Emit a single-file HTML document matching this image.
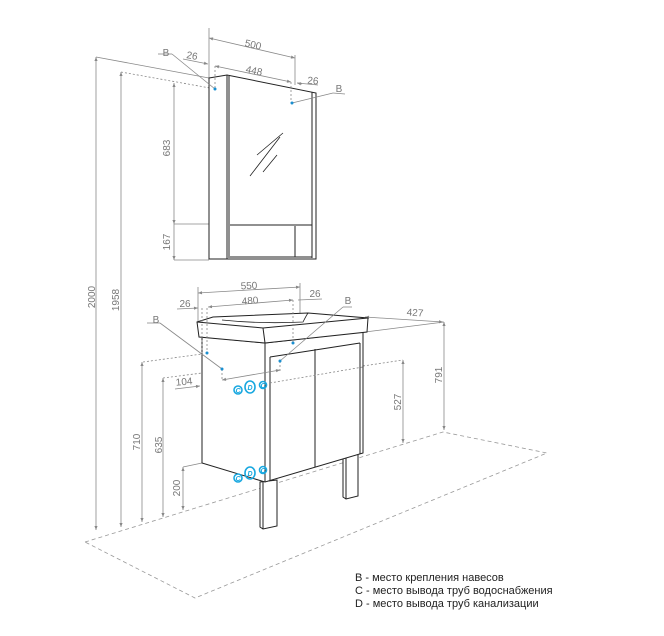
<!DOCTYPE html>
<html><head><meta charset="utf-8"><style>
html,body{margin:0;padding:0;background:#fff;}
svg{display:block;font-family:"Liberation Sans",sans-serif;}
</style></head><body>
<svg width="664" height="636" viewBox="0 0 664 636" xmlns="http://www.w3.org/2000/svg">
<defs>
<marker id="a" viewBox="0 0 10 10" refX="10" refY="5" markerWidth="7" markerHeight="5" orient="auto-start-reverse"><path d="M0,1 L10,5 L0,9 z" fill="#888"/></marker>
</defs>
<g fill="none" stroke="#999" stroke-width="0.8" stroke-dasharray="4,3">
<path d="M85,542 L443,432 L547,453 L195,598 Z"/>
</g>
<g stroke="#888" stroke-width="0.8" fill="none">
<line x1="96" y1="57" x2="96" y2="530" marker-start="url(#a)" marker-end="url(#a)"/>
<line x1="96" y1="57" x2="209" y2="78"/>
<line x1="121" y1="72" x2="121" y2="527" marker-start="url(#a)" marker-end="url(#a)"/>
<line x1="121" y1="72" x2="210" y2="88" stroke-dasharray="2,2"/>
<line x1="209" y1="38" x2="295" y2="58" marker-start="url(#a)" marker-end="url(#a)"/>
<line x1="209" y1="28" x2="209" y2="78"/>
<line x1="295" y1="55" x2="295" y2="85"/>
<line x1="215" y1="66" x2="291" y2="82" marker-start="url(#a)" marker-end="url(#a)"/>
<line x1="183" y1="59" x2="208" y2="64" marker-end="url(#a)"/>
<line x1="297" y1="83" x2="318" y2="85"/>
<line x1="297" y1="83" x2="302" y2="84" marker-start="url(#a)"/>
<line x1="158" y1="54" x2="172" y2="54"/>
<line x1="333" y1="93" x2="345" y2="94"/>
<line x1="174" y1="83" x2="174" y2="224" marker-start="url(#a)" marker-end="url(#a)"/>
<line x1="174" y1="224" x2="174" y2="260" marker-end="url(#a)"/>
<line x1="174" y1="224" x2="209" y2="224"/>
<line x1="174" y1="260" x2="209" y2="260"/>
<line x1="198" y1="293" x2="300" y2="287" marker-start="url(#a)" marker-end="url(#a)"/>
<line x1="198" y1="287" x2="198" y2="322"/>
<line x1="300" y1="283" x2="300" y2="315"/>
<line x1="208" y1="307" x2="293" y2="300" marker-start="url(#a)" marker-end="url(#a)"/>
<line x1="177" y1="309" x2="198" y2="308" marker-end="url(#a)"/>
<line x1="298" y1="300" x2="322" y2="299"/>
<line x1="343" y1="307" x2="352" y2="307"/>
<line x1="147" y1="323" x2="160" y2="323"/>
<line x1="175" y1="389" x2="200" y2="386" marker-end="url(#a)"/>
<line x1="143" y1="362" x2="202" y2="354" stroke-dasharray="2,2"/>
<line x1="163" y1="378" x2="202" y2="373" stroke-dasharray="2,2"/>
<line x1="363" y1="366" x2="403" y2="360" stroke-dasharray="2,2"/>
<line x1="142" y1="362" x2="142" y2="522" marker-start="url(#a)" marker-end="url(#a)"/>
<line x1="163" y1="378" x2="163" y2="517" marker-start="url(#a)" marker-end="url(#a)"/>
<line x1="183" y1="467" x2="183" y2="510" marker-start="url(#a)" marker-end="url(#a)"/>
<line x1="183" y1="467" x2="202" y2="463"/>
<line x1="403" y1="360" x2="403" y2="443" marker-start="url(#a)" marker-end="url(#a)"/>
<line x1="444" y1="322" x2="444" y2="430" marker-start="url(#a)" marker-end="url(#a)"/>
<line x1="365" y1="317" x2="443" y2="322" marker-start="url(#a)" marker-end="url(#a)"/>
<line x1="365" y1="332" x2="444" y2="322"/>
</g>
<g fill="#777" font-size="10">
<text x="253" y="48" transform="rotate(13 253 45)" text-anchor="middle">500</text>
<text x="254" y="74" transform="rotate(12 254 71)" text-anchor="middle">448</text>
<text x="192" y="59" transform="rotate(10 192 56)" text-anchor="middle">26</text>
<text x="313" y="84" transform="rotate(5 313 80)" text-anchor="middle">26</text>
<text x="166" y="56" text-anchor="middle">B</text>
<text x="339" y="92" text-anchor="middle">B</text>
<text x="170" y="148" transform="rotate(-90 170 148)" text-anchor="middle">683</text>
<text x="170" y="242" transform="rotate(-90 170 242)" text-anchor="middle">167</text>
<text x="95" y="297" transform="rotate(-90 95 297)" text-anchor="middle">2000</text>
<text x="119" y="300" transform="rotate(-90 119 300)" text-anchor="middle">1958</text>
<text x="249" y="289" transform="rotate(-3 249 286)" text-anchor="middle">550</text>
<text x="250" y="304" transform="rotate(-4 250 300)" text-anchor="middle">480</text>
<text x="185" y="307" text-anchor="middle">26</text>
<text x="315" y="297" text-anchor="middle">26</text>
<text x="348" y="304" text-anchor="middle">B</text>
<text x="156" y="323" text-anchor="middle">B</text>
<text x="255" y="375" transform="rotate(-9 255 371)" text-anchor="middle">320</text>
<text x="184" y="385" transform="rotate(-5 184 381)" text-anchor="middle">104</text>
<text x="415" y="316" transform="rotate(4 415 313)" text-anchor="middle">427</text>
<text x="140" y="442" transform="rotate(-90 140 442)" text-anchor="middle">710</text>
<text x="162" y="445" transform="rotate(-90 162 445)" text-anchor="middle">635</text>
<text x="180" y="488" transform="rotate(-90 180 488)" text-anchor="middle">200</text>
<text x="401" y="402" transform="rotate(-90 401 402)" text-anchor="middle">527</text>
<text x="442" y="375" transform="rotate(-90 442 375)" text-anchor="middle">791</text>
</g>
<g stroke="#222" stroke-width="1" fill="#fff">
<path d="M209,78 L227,75 L316,93 L316,259 L229,259 L209,259 Z"/>
<path d="M227,75 L227,259 M229,76 L229,258 M312,92 L312,258"/>
<path d="M230,225 L312,225 M295,226 L295,257 M230,257 L312,257" fill="none"/>
<path d="M257,155 L283,133 M250,176 L280,137 M263,172 L277,155" fill="none" stroke-width="0.8"/>
</g>
<g stroke="#222" stroke-width="1" fill="#fff">
<path d="M260,482 L277,480 L277,526 L263,529 L260,527 Z M263,482 L263,529"/>
<path d="M343,457 L358,453 L358,496 L346,499 L343,497 Z M346,457 L346,499"/>
</g>
<g stroke="#222" stroke-width="1" fill="#fff">
<path d="M202,337 L265,343 L363,332 L363,453 L265,482 L202,463 Z"/>
<path d="M265,343 L265,482 M270,357 L270,481 M270,357 L360,343 M315,349 L315,467 M360,343 L360,454" fill="none"/>
<path d="M197,322 L213,317 L308,313 L368,318 L367,332 L265,343 L199,337 Z"/>
<path d="M197,322 L263,328 L368,318 M263,328 L265,343" fill="none"/>
<path d="M222,320 Q260,324 303,322 Q306,316 308,313" fill="none" stroke-width="0.8"/>
</g>
<!-- overlay leaders -->
<g stroke="#888" stroke-width="0.8" fill="none">
<line x1="215" y1="66" x2="215" y2="89" stroke-dasharray="2,2"/>
<line x1="291" y1="82" x2="291" y2="103" stroke-dasharray="2,2"/>
<line x1="172" y1="54" x2="215" y2="89"/>
<line x1="292" y1="103" x2="333" y2="93"/>
<line x1="202" y1="308" x2="202" y2="353" stroke-dasharray="2,2"/>
<line x1="207" y1="308" x2="207" y2="353" stroke-dasharray="2,2"/>
<line x1="293" y1="300" x2="293" y2="343" stroke-dasharray="2,2"/>
<line x1="343" y1="307" x2="280" y2="361"/>
<line x1="160" y1="323" x2="222" y2="369"/>
<line x1="222" y1="369" x2="222" y2="381" stroke-dasharray="2,2"/>
<line x1="280" y1="361" x2="280" y2="371" stroke-dasharray="2,2"/>
<line x1="222" y1="380" x2="280" y2="370" marker-start="url(#a)" marker-end="url(#a)"/>
<line x1="270" y1="383" x2="363" y2="367" stroke-dasharray="2,2"/>
</g>
<g fill="#1a8fd0">
<circle cx="215" cy="89" r="1.5"/><circle cx="292" cy="103" r="1.5"/>
<circle cx="207" cy="353" r="1.5"/><circle cx="222" cy="369" r="1.5"/>
<circle cx="293" cy="343" r="1.5"/><circle cx="280" cy="361" r="1.5"/>
</g>
<g fill="none" stroke="#19a8e0" stroke-width="1.6">
<circle cx="238" cy="390" r="4"/><ellipse cx="250" cy="387" rx="5" ry="6"/><circle cx="263" cy="385" r="3.5"/>
<circle cx="238" cy="478" r="4"/><ellipse cx="250" cy="473" rx="5" ry="6"/><circle cx="263" cy="470" r="3.5"/>
</g>
<g fill="#19a8e0" font-size="7" font-style="italic" font-weight="bold" text-anchor="middle">
<text x="238" y="393">C</text><text x="250" y="390">D</text><text x="263" y="388">C</text>
<text x="238" y="481">C</text><text x="250" y="476">D</text><text x="263" y="473">C</text>
</g>
<g fill="#222" font-size="11">
<text x="355" y="581">B - место крепления навесов</text>
<text x="355" y="594">C - место вывода труб водоснабжения</text>
<text x="355" y="607">D - место вывода труб канализации</text>
</g>
</svg>
</body></html>
